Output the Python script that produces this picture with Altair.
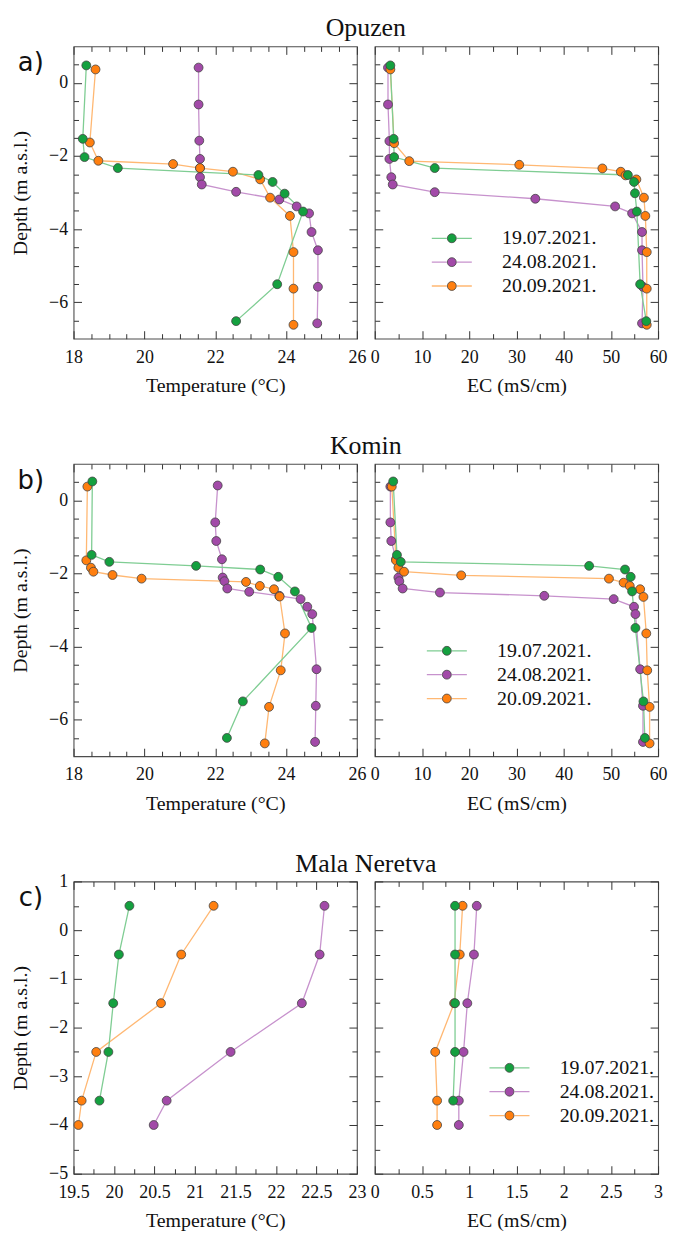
import altair as alt
import pandas as pd

SERIES = ["19.07.2021.", "24.08.2021.", "20.09.2021."]
POINT_COLORS = ["#14a03f", "#a24aa8", "#ff7f0f"]
LINE_COLORS = ["#7fcd93", "#c792cd", "#ffb873"]
DRAW_ORDER = [1, 2, 0]

# ---------------- Opuzen ----------------
OPU_T_JUL_D = [0.48, -1.53, -2.03, -2.33, -2.52, -2.71, -3.03, -3.52, -5.51, -6.52]
OPU_T_JUL_V = [18.36, 18.26, 18.31, 19.25, 23.22, 23.62, 23.96, 24.48, 23.75, 22.59]
OPU_T_AUG_D = [0.42, -0.59, -1.58, -2.08, -2.33, -2.58, -2.78, -2.98, -3.19, -3.38, -3.57, -4.08, -4.58, -5.58, -6.58]
OPU_T_AUG_V = [21.53, 21.53, 21.55, 21.57, 21.57, 21.57, 21.62, 22.59, 23.81, 24.30, 24.65, 24.72, 24.90, 24.90, 24.88]
OPU_T_SEP_D = [0.37, -1.63, -2.13, -2.22, -2.33, -2.43, -2.64, -3.14, -3.64, -4.63, -5.63, -6.62]
OPU_T_SEP_V = [18.62, 18.46, 18.70, 20.81, 21.57, 22.50, 23.27, 23.55, 24.11, 24.21, 24.21, 24.21]

OPU_E_JUL_D = [0.48, -1.53, -2.03, -2.33, -2.52, -2.71, -3.02, -3.52, -5.51, -6.52]
OPU_E_JUL_V = [3.3, 4.0, 4.1, 12.7, 53.6, 54.9, 55.1, 55.5, 56.2, 57.5]
OPU_E_AUG_D = [0.42, -0.59, -1.59, -2.08, -2.58, -2.78, -2.99, -3.17, -3.38, -3.57, -4.08, -4.58, -5.58, -6.58]
OPU_E_AUG_V = [2.8, 2.8, 3.1, 3.1, 3.5, 3.8, 12.7, 34.0, 50.9, 54.5, 56.6, 56.6, 56.8, 56.6]
OPU_E_SEP_D = [0.37, -1.65, -2.14, -2.24, -2.34, -2.43, -2.53, -2.64, -3.14, -3.64, -4.63, -5.63, -6.62]
OPU_E_SEP_V = [3.3, 4.1, 7.3, 30.6, 48.2, 52.1, 53.1, 55.4, 57.0, 57.3, 57.6, 57.6, 57.6]

# ---------------- Komin ----------------
KOM_T_JUL_D = [0.52, -1.49, -1.68, -1.79, -1.89, -2.09, -2.49, -3.49, -5.50, -6.50]
KOM_T_JUL_V = [18.53, 18.51, 19.01, 21.46, 23.27, 23.78, 24.25, 24.72, 22.78, 22.33]
KOM_T_AUG_D = [0.41, -0.60, -1.11, -1.61, -2.11, -2.21, -2.41, -2.50, -2.61, -2.70, -2.91, -3.11, -4.62, -5.62, -6.61]
KOM_T_AUG_V = [22.07, 22.00, 22.03, 22.19, 22.21, 22.26, 22.34, 22.96, 23.81, 24.41, 24.60, 24.74, 24.86, 24.84, 24.82]
KOM_T_SEP_D = [0.38, -1.64, -1.84, -1.95, -2.04, -2.14, -2.23, -2.34, -2.43, -2.63, -3.64, -4.65, -5.65, -6.65]
KOM_T_SEP_V = [18.39, 18.36, 18.49, 18.56, 19.10, 19.92, 22.87, 23.26, 23.66, 23.82, 23.97, 23.85, 23.52, 23.40]

KOM_E_JUL_D = [0.52, -1.49, -1.68, -1.79, -1.89, -2.09, -2.49, -3.49, -5.50, -6.50]
KOM_E_JUL_V = [3.9, 4.7, 5.5, 45.4, 53.0, 54.2, 54.5, 55.2, 56.9, 57.2]
KOM_E_AUG_D = [0.38, -0.60, -1.11, -1.61, -2.11, -2.21, -2.41, -2.52, -2.61, -2.70, -2.91, -3.11, -4.62, -5.62, -6.61]
KOM_E_AUG_V = [3.3, 3.3, 3.5, 4.5, 5.0, 5.2, 5.9, 13.8, 35.9, 50.6, 54.9, 55.2, 56.2, 56.8, 56.8]
KOM_E_SEP_D = [0.38, -1.64, -1.84, -1.95, -2.05, -2.14, -2.25, -2.34, -2.43, -2.64, -3.64, -4.65, -5.65, -6.65]
KOM_E_SEP_V = [3.6, 4.5, 5.0, 6.2, 18.3, 49.6, 52.7, 54.0, 56.2, 56.9, 57.5, 57.7, 58.2, 58.2]

# ---------------- Mala Neretva ----------------
MAL_T_JUL_D = [0.5, -0.5, -1.5, -2.5, -3.5]
MAL_T_JUL_V = [20.19, 20.06, 19.99, 19.93, 19.82]
MAL_T_AUG_D = [0.5, -0.5, -1.5, -2.5, -3.5, -4.0]
MAL_T_AUG_V = [22.60, 22.54, 22.32, 21.44, 20.65, 20.49]
MAL_T_SEP_D = [0.5, -0.5, -1.5, -2.5, -3.5, -4.0]
MAL_T_SEP_V = [21.23, 20.83, 20.58, 19.78, 19.60, 19.56]

MAL_E_JUL_D = [0.5, -0.5, -1.5, -2.5, -3.5]
MAL_E_JUL_V = [0.85, 0.85, 0.85, 0.85, 0.83]
MAL_E_AUG_D = [0.5, -0.5, -1.5, -2.5, -3.5, -4.0]
MAL_E_AUG_V = [1.08, 1.05, 0.98, 0.94, 0.89, 0.89]
MAL_E_SEP_D = [0.5, -0.5, -1.5, -2.5, -3.5, -4.0]
MAL_E_SEP_V = [0.93, 0.90, 0.84, 0.64, 0.66, 0.66]

SITES = ["Opuzen", "Komin", "Mala Neretva"]
TAGS = ["a)", "b)", "c)"]

# axis ticks / labels
T_AB_MAJOR = [18, 20, 22, 24, 26]
T_AB_MINOR = [18.5, 19, 19.5, 20.5, 21, 21.5, 22.5, 23, 23.5, 24.5, 25, 25.5]
E_AB_MAJOR = [0, 10, 20, 30, 40, 50, 60]
E_AB_MINOR = [5, 15, 25, 35, 45, 55]
D_AB_MAJOR = [-6, -4, -2, 0]
D_AB_MINOR = [-6.5, -5.5, -5, -4.5, -3.5, -3, -2.5, -1.5, -1, -0.5, 0.5]
T_C_MAJOR = [19.5, 20, 20.5, 21, 21.5, 22, 22.5, 23]
T_C_MINOR = [19.75, 20.25, 20.75, 21.25, 21.75, 22.25, 22.75]
E_C_MAJOR = [0, 0.5, 1, 1.5, 2, 2.5, 3]
E_C_MINOR = [0.25, 0.75, 1.25, 1.75, 2.25, 2.75]
D_C_MAJOR = [-5, -4, -3, -2, -1, 0, 1]
D_C_MINOR = [-4.5, -3.5, -2.5, -1.5, -0.5, 0.5]

FONT = "Liberation Serif"
W, H = 285, 294
MAJ, MIN = 8, 5
INK = "#111111"
TICK = "#333333"


def make_axis(orient, values, size, labels, titled=False, label_pad=9.5, title_pad=10):
    kw = dict(orient=orient, values=values, tickSize=size, offset=-size, domain=False,
              grid=False, ticks=True, tickColor=TICK, tickWidth=1, labels=labels)
    if labels:
        kw.update(format=".4~g", labelFont=FONT, labelFontSize=18, labelColor=INK,
                  labelPadding=label_pad, labelFlush=False, labelOverlap=False)
    if titled:
        kw.update(titleFont=FONT, titleFontSize=20, titleFontWeight="normal",
                  titleColor=INK, titlePadding=title_pad)
    return alt.Axis(**kw)


def build_panel(series, xdom, xmaj, xmin, ydom, ymaj, ymin, xtitle, ytitle,
                legend_xy=None, site=None, tag=None):
    frames = []
    for k in DRAW_ORDER:
        d, v = series[k]
        frames.append(pd.DataFrame({"series": SERIES[k], "depth": d, "value": v,
                                    "i": list(range(len(d)))}))
    df = pd.concat(frames, ignore_index=True)
    xs = alt.Scale(domain=xdom, nice=False, zero=False)
    ys = alt.Scale(domain=ydom, nice=False, zero=False)
    has_y = ytitle is not None

    if legend_xy is not None:
        lx, ly = legend_xy
        line_leg = alt.Legend(orient="none", legendX=lx, legendY=ly, title=None,
                              symbolType="M -4.5 0 L -1.13 0 M 1.13 0 L 4.5 0",
                              symbolSize=80, symbolStrokeWidth=1.3, labelOpacity=0,
                              labelFont=FONT, labelFontSize=20, labelOffset=40.5,
                              rowPadding=4, padding=0)
        pt_leg = alt.Legend(orient="none", legendX=lx, legendY=ly, title=None,
                            symbolType="circle", symbolSize=80, symbolStrokeColor="#444444",
                            symbolStrokeWidth=0.8, symbolOpacity=1,
                            labelFont=FONT, labelFontSize=20, labelColor=INK, labelOffset=40.5,
                            rowPadding=4, padding=0)
    else:
        line_leg = None
        pt_leg = None

    # the line scale carries one extra, invisible entry so that its legend is not
    # merged with the point legend (both are drawn on top of each other)
    lines = alt.Chart(df).mark_line(strokeWidth=1.3).encode(
        x=alt.X("value:Q", scale=xs, title=xtitle,
                axis=make_axis("bottom", xmaj, MAJ, True, titled=True)),
        y=alt.Y("depth:Q", scale=ys, title=ytitle if has_y else None,
                axis=make_axis("left", ymaj, MAJ, has_y, titled=has_y, label_pad=6, title_pad=18)),
        color=alt.Color("series:N",
                        scale=alt.Scale(domain=SERIES + ["~"],
                                        range=LINE_COLORS + ["rgba(0,0,0,0)"]),
                        legend=line_leg),
        order="i:Q",
    )
    points = alt.Chart(df).mark_circle(size=80, opacity=1, stroke="#444444", strokeWidth=0.8).encode(
        x=alt.X("value:Q", scale=xs, title=None, axis=make_axis("bottom", xmin, MIN, False)),
        y=alt.Y("depth:Q", scale=ys, title=None, axis=make_axis("left", ymin, MIN, False)),
        fill=alt.Fill("series:N", scale=alt.Scale(domain=SERIES, range=POINT_COLORS),
                      legend=pt_leg),
    )
    top_major = alt.Chart(df).mark_point(opacity=0, size=1).encode(
        x=alt.X("value:Q", scale=xs, title=None, axis=make_axis("top", xmaj, MAJ, False)),
        y=alt.Y("depth:Q", scale=ys, title=None, axis=make_axis("right", ymaj, MAJ, False)),
    )
    top_minor = alt.Chart(df).mark_point(opacity=0, size=1).encode(
        x=alt.X("value:Q", scale=xs, title=None, axis=make_axis("top", xmin, MIN, False)),
        y=alt.Y("depth:Q", scale=ys, title=None, axis=make_axis("right", ymin, MIN, False)),
    )
    layers = [lines, top_major, top_minor, points]
    if site is not None:
        layers.append(
            alt.Chart(pd.DataFrame({"t": [site]})).mark_text(
                font=FONT, fontSize=26, color=INK, align="center", baseline="alphabetic"
            ).encode(x=alt.value(294), y=alt.value(-10), text="t:N")
        )
    if tag is not None:
        layers.append(
            alt.Chart(pd.DataFrame({"t": [tag]})).mark_text(
                font="DejaVu Sans", fontSize=26, color=INK, align="center", baseline="middle"
            ).encode(x=alt.value(-43), y=alt.value(17), text="t:N")
        )
    return alt.layer(*layers).resolve_axis(x="independent", y="independent").properties(
        width=W, height=H)


T_TITLE = "Temperature (°C)"
E_TITLE = "EC (mS/cm)"
Y_TITLE = "Depth (m a.s.l.)"

panels = [
    build_panel([(OPU_T_JUL_D, OPU_T_JUL_V), (OPU_T_AUG_D, OPU_T_AUG_V), (OPU_T_SEP_D, OPU_T_SEP_V)],
                [18, 26], T_AB_MAJOR, T_AB_MINOR, [-7, 1], D_AB_MAJOR, D_AB_MINOR,
                T_TITLE, Y_TITLE, site=SITES[0], tag=TAGS[0]),
    build_panel([(OPU_E_JUL_D, OPU_E_JUL_V), (OPU_E_AUG_D, OPU_E_AUG_V), (OPU_E_SEP_D, OPU_E_SEP_V)],
                [0, 60], E_AB_MAJOR, E_AB_MINOR, [-7, 1], D_AB_MAJOR, D_AB_MINOR,
                E_TITLE, None, legend_xy=(67.5, 183)),
    build_panel([(KOM_T_JUL_D, KOM_T_JUL_V), (KOM_T_AUG_D, KOM_T_AUG_V), (KOM_T_SEP_D, KOM_T_SEP_V)],
                [18, 26], T_AB_MAJOR, T_AB_MINOR, [-7, 1], D_AB_MAJOR, D_AB_MINOR,
                T_TITLE, Y_TITLE, site=SITES[1], tag=TAGS[1]),
    build_panel([(KOM_E_JUL_D, KOM_E_JUL_V), (KOM_E_AUG_D, KOM_E_AUG_V), (KOM_E_SEP_D, KOM_E_SEP_V)],
                [0, 60], E_AB_MAJOR, E_AB_MINOR, [-7, 1], D_AB_MAJOR, D_AB_MINOR,
                E_TITLE, None, legend_xy=(62.5, 178)),
    build_panel([(MAL_T_JUL_D, MAL_T_JUL_V), (MAL_T_AUG_D, MAL_T_AUG_V), (MAL_T_SEP_D, MAL_T_SEP_V)],
                [19.5, 23], T_C_MAJOR, T_C_MINOR, [-5, 1], D_C_MAJOR, D_C_MINOR,
                T_TITLE, Y_TITLE, site=SITES[2], tag=TAGS[2]),
    build_panel([(MAL_E_JUL_D, MAL_E_JUL_V), (MAL_E_AUG_D, MAL_E_AUG_V), (MAL_E_SEP_D, MAL_E_SEP_V)],
                [0, 3], E_C_MAJOR, E_C_MINOR, [-5, 1], D_C_MAJOR, D_C_MINOR,
                E_TITLE, None, legend_xy=(125.5, 177.5)),
]

chart = alt.concat(
    *panels, columns=2, spacing={"row": 126, "column": 18}, bounds="flush"
).resolve_scale(
    color="independent", fill="independent"
).properties(
    padding={"left": 10, "top": 11, "right": 5, "bottom": 5},
    background="white",
).configure_view(
    stroke="#4d4d4d", strokeWidth=1.1
).configure_axis(
    grid=False, labelFont=FONT, titleFont=FONT, labelFontSize=18, titleFontSize=20,
    titleFontWeight="normal", labelColor=INK, titleColor=INK
).configure_legend(
    labelFont=FONT, labelFontSize=20, labelColor=INK
)

chart.save("out.html", embed_options={"renderer": "svg", "actions": False})
